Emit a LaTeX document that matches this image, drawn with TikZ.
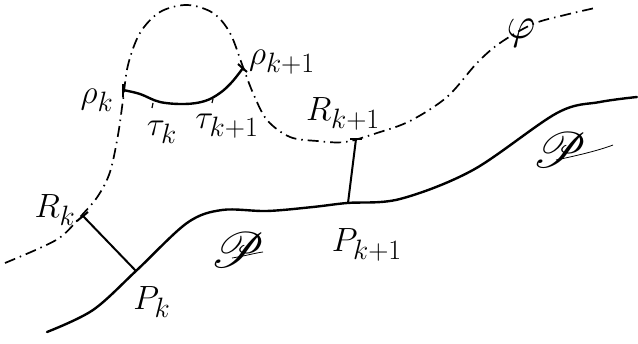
\documentclass[tikz,border=0pt]{standalone}
\usepackage{mathrsfs}
\tikzset{
  curveline/.style={line width=2.4pt, line cap=round},
  dashline/.style={line width=1.7pt, dash pattern=on 11pt off 5pt on 1.5pt off 5pt},
  tickline/.style={line width=2pt},
  lbl/.style={inner sep=0pt, font=\Huge, scale=1.35},
  biglbl/.style={inner sep=0pt, font=\Huge, scale=2},
  swoosh/.style={line width=0.8pt},
}
\begin{document}
\begin{tikzpicture}[x=1pt,y=-1pt]
\useasboundingbox (0,0) rectangle (638,344);
% dash-dot curve phi
\draw[dashline] plot[smooth, tension=0.55] coordinates {(5,263) (40,248) (62,236) (82,215) (98,196) (110,172) (118,135) (123,100) (128,65) (140,33) (160,12) (187,5) (213,13) (230,33) (243,67) (253,93) (267,120) (290,137) (317,141) (345,142) (377,133) (410,121) (447,97) (477,63) (500,43) (533,24) (565,15) (595,8)};
% solid curve P
\draw[curveline] plot[smooth, tension=0.55] coordinates {(47,332) (93,310) (137,270) (187,223) (222,210) (267,211) (313,207) (347,203) (400,199) (473,170) (557,113) (600,102) (637,97)};
% tau curve
\coordinate (rk) at (123,90);
\coordinate (rk1) at (243,68);
\draw[curveline] plot[smooth, tension=0.6] coordinates {(123,90) (140,94) (160,102) (185,104) (205,101) (220,93) (232,82) (243,68)};
\draw[tickline] (123,84) -- (123,97);
\draw[tickline] (238,64) -- (247,72);
\draw[line width=1.2pt] (153,103) -- (152,108);
\draw[line width=1.2pt] (213,99) -- (212,103);
% normals
\coordinate (Rk) at (83,216);
\coordinate (Pk) at (136,271);
\coordinate (Rk1) at (356,139);
\coordinate (Pk1) at (348,203);
\draw[tickline] (77,221) -- (88,212);
\draw[tickline] (Rk) -- (Pk);
\draw[tickline] (350,139) -- (362,139);
\draw[tickline] (Rk1) -- (Pk1);
% labels
\node[lbl] (lrk) at (97,100) {$\rho_k$};
\node[lbl] (lrk1) at (282,62) {$\rho_{k+1}$};
\node[lbl] (ltk) at (162,132) {$\tau_k$};
\node[lbl] (ltk1) at (227,126) {$\tau_{k+1}$};
\node[lbl] (lRk1) at (343,114) {$R_{k+1}$};
\node[inner sep=0pt, font=\Huge, scale=1.8] (lphi) at (521,33) {$\varphi$};
\node[biglbl] (lP1) at (560,150) {$\mathscr{P}$};
\draw[swoosh] (556,160) .. controls (580,155) and (600,150) .. (613,145);
\node[biglbl] (lP2) at (238,250) {$\mathscr{P}$};
\draw[swoosh] (232,258) .. controls (245,256) and (255,253) .. (263,252);
\node[lbl] (lRk) at (55,210) {$R_k$};
\node[lbl] (lPk) at (152,302) {$P_k$};
\node[lbl] (lPk1) at (367,245) {$P_{k+1}$};
\end{tikzpicture}
\end{document}
